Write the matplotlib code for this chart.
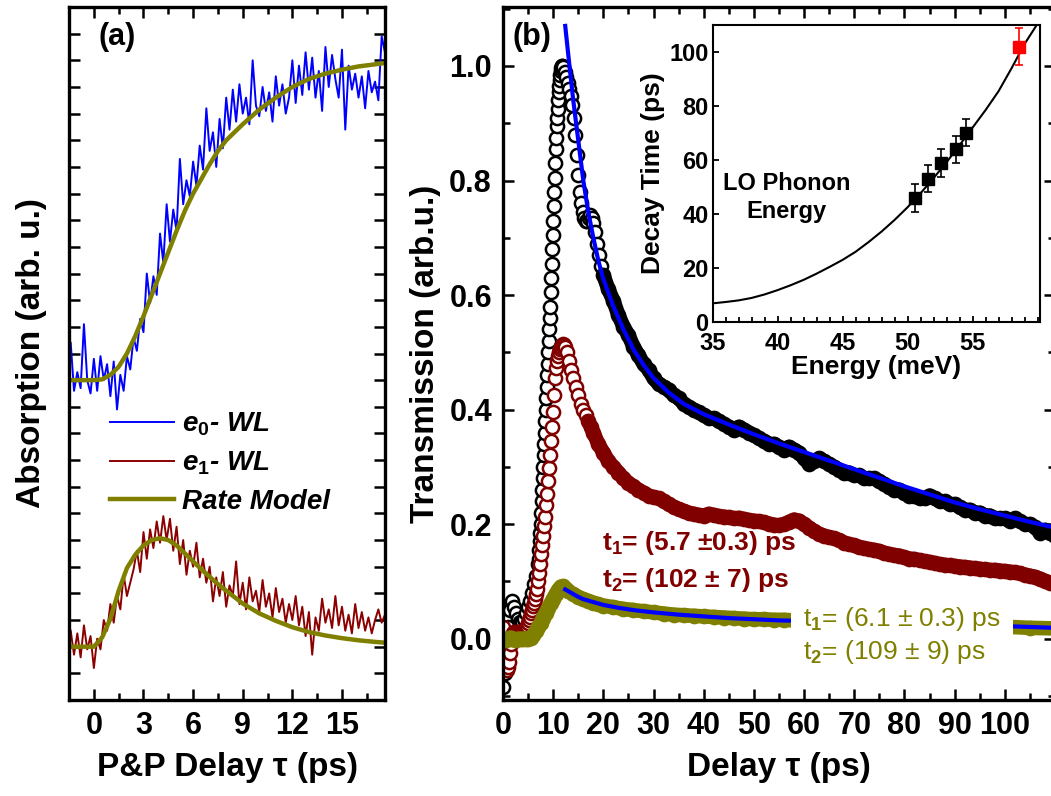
"""Pump-probe figure: (a) WL absorption transients with rate-model curves,
(b) transmission transients with bi-exponential fits and LO-phonon inset."""
import numpy as np
import matplotlib

matplotlib.use("Agg")
import matplotlib.pyplot as plt
from matplotlib.ticker import FixedLocator, FormatStrFormatter, MultipleLocator

BLUE = "#0000ff"
MAROON = "#800000"
DARKRED = "#8b0000"
OLIVE = "#808000"

# ---- panel (a): absorption vs P&P delay (arb. units) -----------------------
a_t = np.round(np.arange(-1.4, 17.61, 0.2), 1)
a_e0 = [13.4, 11.6, 12.3, 11.7, 14.1, 12.0, 11.5, 12.8, 11.6, 12.9,
        12.0, 12.6, 11.4, 12.7, 10.9, 12.2, 11.6, 12.9, 12.4, 13.6,
        13.1, 14.3, 13.8, 16.0, 14.9, 15.9, 15.2, 17.5, 16.4, 18.6,
        17.2, 18.4, 17.6, 20.3, 18.6, 19.5, 18.9, 20.2, 19.3, 20.8,
        19.9, 22.2, 20.6, 21.3, 20.0, 21.8, 20.7, 22.6, 21.4, 22.9,
        21.7, 23.1, 22.0, 22.6, 21.6, 24.0, 22.3, 21.9, 23.0, 22.1,
        22.8, 21.7, 23.4, 22.3, 23.1, 22.0, 22.6, 24.0, 22.4, 23.8,
        22.7, 24.3, 22.9, 24.1, 22.6, 23.6, 22.1, 24.5, 23.0, 24.2,
        23.3, 22.6, 24.4, 21.4, 23.8, 22.9, 23.5, 22.6, 23.4, 22.2,
        23.6, 22.8, 23.2, 22.5, 24.9, 24.3]
a_e1 = [2.6, 1.7, 2.5, 1.6, 2.8, 1.9, 2.4, 1.2, 2.3, 1.9,
        3.0, 2.6, 3.6, 2.9, 3.9, 3.4, 4.7, 3.9, 4.4, 4.9,
        5.6, 4.8, 6.3, 5.3, 6.4, 5.7, 6.7, 5.9, 6.9, 6.0,
        6.8, 5.6, 6.5, 5.1, 6.0, 4.7, 5.6, 5.0, 5.9, 4.6,
        5.3, 4.4, 5.0, 3.7, 4.6, 3.9, 4.8, 3.5, 4.3, 3.9,
        5.2, 3.6, 4.4, 3.4, 4.6, 3.7, 4.1, 3.3, 4.5, 3.5,
        4.0, 3.1, 4.2, 3.3, 3.8, 2.9, 3.6, 3.0, 3.9, 2.8,
        3.5, 2.4, 3.3, 1.7, 3.1, 2.6, 3.8, 2.9, 3.4, 2.7,
        3.9, 2.8, 3.5, 2.6, 3.2, 2.5, 3.6, 2.7, 3.3, 2.6,
        3.1, 2.5, 3.0, 3.4, 2.9, 3.2]
model_t = [-1.5, -1.0, -0.5, 0.0, 0.5, 1.0, 1.5, 2.0, 2.5, 3.0, 3.5, 4.0, 4.5,
           5.0, 5.5, 6.0, 6.5, 7.0, 7.5, 8.0, 9.0, 10.0, 11.0, 12.0, 13.0,
           14.0, 15.0, 16.0, 17.0, 17.6]
model_e0 = [12.0, 12.0, 12.0, 12.0, 12.03, 12.2, 12.5, 13.0, 13.65, 14.4, 15.2,
            16.0, 16.8, 17.6, 18.35, 19.0, 19.55, 20.1, 20.6, 21.0, 21.6, 22.15,
            22.6, 23.0, 23.3, 23.5, 23.65, 23.77, 23.85, 23.9]
model_e1 = [2.0, 2.0, 2.0, 2.0, 2.35, 3.05, 4.1, 4.95, 5.45, 5.8, 6.0, 6.07,
            6.0, 5.8, 5.5, 5.2, 4.9, 4.62, 4.35, 4.1, 3.62, 3.25, 2.97, 2.73,
            2.55, 2.42, 2.32, 2.24, 2.18, 2.15]

# ---- panel (b): transmission vs delay ---------------------------------------
tail_t = np.arange(21, 111)

black_t_early = np.concatenate([
    [0.0, 0.3, 0.6, 1.0, 1.4, 1.8, 2.2, 2.6, 3.0, 3.4, 3.8, 4.2, 4.6, 5.0,
     5.4, 5.8, 6.2, 6.6],
    np.round(np.arange(7.0, 11.85, 0.1), 1),
    [12.0, 12.3, 12.6, 12.9, 13.2, 13.5, 13.8, 14.1, 14.4, 14.7, 15.0, 15.3,
     15.6, 15.9, 16.2, 16.5, 16.8, 17.1, 17.4, 17.7, 18.0, 18.4, 18.8, 19.2,
     19.6, 20.0]])
black_v_early = [
    -0.085, -0.06, -0.03, 0.02, 0.05, 0.065, 0.055, 0.045, 0.035, 0.03, 0.03,
    0.035, 0.045, 0.055, 0.065, 0.08, 0.095, 0.11,
    0.13, 0.14, 0.155, 0.17, 0.185, 0.2, 0.22, 0.24, 0.26, 0.28,
    0.30, 0.32, 0.34, 0.36, 0.38, 0.40, 0.42, 0.44, 0.46, 0.48,
    0.50, 0.52, 0.54, 0.56, 0.58, 0.605, 0.63, 0.655, 0.68, 0.705,
    0.73, 0.755, 0.78, 0.805, 0.83, 0.855, 0.875, 0.895, 0.91, 0.925,
    0.94, 0.955, 0.965, 0.975, 0.985, 0.992, 0.997, 1.0, 1.0,
    0.998, 0.99, 0.98, 0.97, 0.96, 0.948, 0.932, 0.91, 0.88, 0.845, 0.81,
    0.78, 0.76, 0.745, 0.735, 0.73, 0.73, 0.735, 0.74, 0.735, 0.725, 0.71,
    0.69, 0.67, 0.65, 0.635]
black_v_tail = [
    0.61, 0.59, 0.565, 0.545, 0.53, 0.51, 0.495, 0.48, 0.47, 0.455,
    0.445, 0.44, 0.435, 0.425, 0.42, 0.41, 0.405, 0.40, 0.395, 0.39,
    0.385, 0.385, 0.38, 0.375, 0.37, 0.365, 0.37, 0.365, 0.36, 0.355,
    0.35, 0.345, 0.34, 0.34, 0.335, 0.33, 0.335, 0.33, 0.325, 0.315,
    0.305, 0.31, 0.315, 0.31, 0.305, 0.30, 0.295, 0.29, 0.29, 0.285,
    0.285, 0.28, 0.28, 0.28, 0.275, 0.27, 0.265, 0.26, 0.26, 0.255,
    0.25, 0.25, 0.245, 0.245, 0.25, 0.245, 0.24, 0.24, 0.235, 0.235,
    0.23, 0.225, 0.225, 0.22, 0.22, 0.215, 0.215, 0.21, 0.21, 0.21,
    0.205, 0.21, 0.205, 0.20, 0.20, 0.195, 0.185, 0.19, 0.185, 0.18]

red_t_early = np.concatenate([
    np.round(np.arange(0.0, 12.41, 0.2), 1),
    [12.8, 13.2, 13.6, 14.0, 14.5, 15.0, 15.5, 16.0, 16.5, 17.0, 17.5, 18.0,
     19.0, 20.0]])
red_v_early = [
    0.02, 0.0, -0.025, -0.045, -0.055, -0.05, -0.04, -0.025, -0.01, 0.0,
    0.01, 0.012, 0.012, 0.01, 0.01, 0.012, 0.012, 0.01, 0.012, 0.012,
    0.012, 0.013, 0.015, 0.018, 0.022, 0.027, 0.032, 0.038, 0.045, 0.051,
    0.057, 0.063, 0.07, 0.078, 0.086, 0.1, 0.115, 0.131, 0.148, 0.164,
    0.18, 0.196, 0.213, 0.233, 0.253, 0.275, 0.298, 0.321, 0.345, 0.37,
    0.395, 0.425, 0.455, 0.472, 0.485, 0.493, 0.5, 0.506, 0.51, 0.513,
    0.515, 0.513, 0.51,
    0.5, 0.485, 0.47, 0.455, 0.44, 0.425, 0.41, 0.40, 0.39, 0.38, 0.37,
    0.36, 0.34, 0.325]
red_v_tail = [
    0.31, 0.30, 0.29, 0.28, 0.272, 0.266, 0.26, 0.255, 0.25, 0.247,
    0.245, 0.24, 0.235, 0.23, 0.226, 0.223, 0.22, 0.218, 0.216, 0.215,
    0.218, 0.216, 0.214, 0.213, 0.212, 0.21, 0.211, 0.209, 0.207, 0.206,
    0.205, 0.203, 0.201, 0.199, 0.198, 0.2, 0.204, 0.208, 0.206, 0.2,
    0.194, 0.188, 0.183, 0.18, 0.177, 0.175, 0.172, 0.168, 0.165, 0.163,
    0.16, 0.158, 0.156, 0.155, 0.153, 0.15, 0.148, 0.146, 0.145, 0.142,
    0.14, 0.139, 0.137, 0.135, 0.134, 0.132, 0.13, 0.129, 0.128, 0.127,
    0.126, 0.125, 0.124, 0.123, 0.122, 0.121, 0.12, 0.12, 0.119, 0.118,
    0.117, 0.116, 0.114, 0.112, 0.11, 0.108, 0.105, 0.101, 0.098, 0.095]

olive_t = [0, 0.5, 1, 1.5, 2, 2.5, 3, 3.5, 4, 4.5, 5, 5.5, 6, 6.5, 7, 7.5, 8,
           8.5, 9, 9.5, 10, 10.5, 11, 11.5, 12, 12.5, 13, 14, 15, 16, 17, 18,
           19, 20, 22, 24, 26, 28, 30, 32, 34, 36, 38, 40, 42, 44, 46, 48, 50,
           52, 54, 56, 58, 60, 65, 70, 75, 80, 85, 90, 95, 100, 105, 110]
olive_v = [0.0, -0.002, 0.0, 0.002, 0.0, -0.002, 0.0, 0.0, 0.0, 0.0, 0.0,
           0.002, 0.006, 0.013, 0.02, 0.028, 0.037, 0.045, 0.053, 0.062, 0.07,
           0.078, 0.085, 0.091, 0.092, 0.087, 0.083, 0.078, 0.073, 0.069,
           0.066, 0.063, 0.06, 0.058, 0.055, 0.052, 0.05, 0.048, 0.046, 0.044,
           0.042, 0.041, 0.04, 0.039, 0.038, 0.037, 0.036, 0.035, 0.034,
           0.034, 0.033, 0.033, 0.032, 0.032, 0.03, 0.029, 0.028, 0.026,
           0.025, 0.024, 0.022, 0.021, 0.019, 0.018]

fitb_t = [12.4, 13, 13.5, 14, 15, 16, 17, 18, 19, 20, 22, 24, 26, 28, 30, 33,
          36, 40, 45, 50, 55, 60, 65, 70, 75, 80, 85, 90, 95, 100, 105, 110]
fit_black = [1.07, 1.02, 0.98, 0.94, 0.87, 0.80, 0.745, 0.70, 0.66, 0.628,
             0.58, 0.54, 0.505, 0.478, 0.455, 0.43, 0.41, 0.392, 0.374, 0.357,
             0.341, 0.326, 0.311, 0.296, 0.281, 0.266, 0.252, 0.238, 0.226,
             0.215, 0.204, 0.194]
fito_t = [12.4, 13, 14, 15, 16, 18, 20, 23, 26, 30, 35, 40, 45, 50, 55, 60, 70,
          80, 90, 100, 110]
fit_olive = [0.086, 0.083, 0.078, 0.073, 0.069, 0.064, 0.059, 0.054, 0.05,
             0.046, 0.042, 0.039, 0.036, 0.034, 0.032, 0.031, 0.029, 0.027,
             0.025, 0.022, 0.019]

# ---- inset: decay time vs LO phonon energy ----------------------------------
lo_E = [50.6, 51.6, 52.6, 53.7, 54.5]
lo_tau = [46, 53, 59, 64, 70]
lo_err = [5.2, 5.0, 5.2, 5.0, 5.0]
ref_E = [58.6]
ref_tau = [102]
ref_err = [7]
curve_E = [35, 36, 37, 38, 39, 40, 41, 42, 43, 44, 45, 46, 47, 48, 49, 50, 51,
           52, 53, 54, 55, 56, 57, 58, 59, 60]
curve_tau = [6.9, 7.4, 8.0, 8.9, 10.2, 11.8, 13.6, 15.6, 17.9, 20.4, 23.0, 26.0,
             29.6, 33.5, 37.8, 42.5, 47.7, 53.3, 59.2, 65.5, 72.0, 78.5, 85.5,
             94.0, 103.0, 110.5]

plt.rcParams.update({
    "font.family": ["Liberation Sans", "DejaVu Sans"],
    "font.weight": "bold",
    "axes.labelweight": "bold",
    "mathtext.fontset": "custom",
    "mathtext.rm": "Liberation Sans",
    "mathtext.bf": "Liberation Sans:bold",
    "mathtext.it": "Liberation Sans:italic",
    "xtick.direction": "in",
    "ytick.direction": "in",
    "xtick.top": True,
    "ytick.right": True,
    "axes.linewidth": 2.4,
})


def style_main(ax):
    ax.tick_params(which="major", length=8, width=1.8, labelsize=22, pad=8)
    ax.tick_params(which="minor", length=5, width=1.8)


fig = plt.figure(figsize=(10.51, 7.96), dpi=100)

# (a)
ax_a = fig.add_axes([0.0657, 0.1206, 0.3006, 0.8706])
ax_a.plot(a_t, a_e0, color=BLUE, lw=1.4, label=r"e$_\mathbf{0}$- WL")
ax_a.plot(a_t, a_e1, color=DARKRED, lw=1.4, label=r"e$_\mathbf{1}$- WL")
ax_a.plot(model_t, model_e0, color=OLIVE, lw=3.2, label="Rate Model")
ax_a.plot(model_t, model_e1, color=OLIVE, lw=3.2)
ax_a.set_xlim(-1.5, 17.6)
ax_a.set_ylim(0, 26)
ax_a.xaxis.set_major_locator(MultipleLocator(3))
ax_a.xaxis.set_minor_locator(MultipleLocator(1.5))
ax_a.yaxis.set_major_locator(FixedLocator(range(1, 26)))
ax_a.tick_params(axis="y", labelleft=False)
style_main(ax_a)
ax_a.set_xlabel("P&P Delay τ (ps)", fontsize=24, labelpad=8)
ax_a.set_ylabel("Absorption (arb. u.)", fontsize=24, labelpad=16)
ax_a.text(0.152, 0.957, "(a)", transform=ax_a.transAxes, fontsize=22,
          ha="center", va="center")
ax_a.legend(loc="upper left", bbox_to_anchor=(0.13, 0.418), frameon=False,
            handlelength=2.3, handletextpad=0.3, labelspacing=0.42,
            borderpad=0, borderaxespad=0,
            prop={"weight": "bold", "style": "italic", "size": 20})

# (b)
ax_b = fig.add_axes([0.4786, 0.1206, 0.5252, 0.8706])
black_t = np.concatenate([black_t_early, tail_t])
black_v = np.array(black_v_early + black_v_tail)
red_t = np.concatenate([red_t_early, tail_t])
red_v = np.array(red_v_early + red_v_tail)

circ = dict(ls="none", marker="o", ms=9.5, mfc="white", mew=1.8)
ax_b.plot(black_t, black_v, mec="black", zorder=2, **circ)
ax_b.plot(black_t[black_t >= 20], black_v[black_t >= 20], color="black",
          lw=10.5, solid_capstyle="round", zorder=2.1)
ax_b.plot(red_t, red_v, mec=MAROON, zorder=2.2, **circ)
ax_b.plot(red_t[red_t >= 17], red_v[red_t >= 17], color=MAROON,
          lw=10.5, solid_capstyle="round", zorder=2.3)
ax_b.plot(olive_t, olive_v, mec=OLIVE, zorder=2.4, **circ)
ax_b.plot(olive_t, olive_v, color=OLIVE, lw=10.5, solid_capstyle="round",
          zorder=2.5)
ax_b.plot(fitb_t, fit_black, color=BLUE, lw=3, zorder=3)
ax_b.plot(fito_t, fit_olive, color=BLUE, lw=3, zorder=3)

ax_b.set_xlim(0, 110)
ax_b.set_ylim(-0.107, 1.103)
ax_b.xaxis.set_major_locator(FixedLocator(range(0, 101, 10)))
ax_b.xaxis.set_minor_locator(MultipleLocator(5))
ax_b.yaxis.set_major_locator(FixedLocator([0, 0.2, 0.4, 0.6, 0.8, 1.0]))
ax_b.yaxis.set_minor_locator(MultipleLocator(0.1))
ax_b.yaxis.set_major_formatter(FormatStrFormatter("%.1f"))
style_main(ax_b)
ax_b.set_xlabel("Delay τ (ps)", fontsize=24, labelpad=8)
ax_b.set_ylabel("Transmission (arb.u.)", fontsize=24, labelpad=6)
ax_b.text(0.053, 0.957, "(b)", transform=ax_b.transAxes, fontsize=22,
          ha="center", va="center")

ax_b.text(19.7, 0.168, r"t$_\mathbf{1}$= (5.7 ±0.3) ps", color=MAROON,
          fontsize=19, va="center", zorder=5)
ax_b.text(19.7, 0.103, r"t$_\mathbf{2}$= (102 ± 7) ps", color=MAROON,
          fontsize=19, va="center", zorder=5)
ax_b.text(59.8, 0.006, "t$_\\mathrm{1}$= (6.1 ± 0.3) ps\nt$_\\mathrm{2}$= (109 ± 9) ps",
          color=OLIVE, fontsize=19, fontweight="normal", va="center",
          linespacing=1.25, zorder=6,
          bbox=dict(boxstyle="square,pad=0.45", fc="white", ec="none"))

# inset
ax_in = fig.add_axes([0.678, 0.5955, 0.3111, 0.3731])
ax_in.plot(curve_E, curve_tau, color="black", lw=1.5)
ax_in.errorbar(lo_E, lo_tau, yerr=lo_err, fmt="s", color="black", ms=9,
               capsize=3, elinewidth=1.2, capthick=1.2)
ax_in.errorbar(ref_E, ref_tau, yerr=ref_err, fmt="s", color="#ff0000", ms=9,
               capsize=3, elinewidth=1.2, capthick=1.2)
ax_in.set_xlim(35, 60.15)
ax_in.set_ylim(0, 110)
ax_in.xaxis.set_major_locator(FixedLocator([35, 40, 45, 50, 55]))
ax_in.xaxis.set_minor_locator(MultipleLocator(1))
ax_in.yaxis.set_major_locator(MultipleLocator(20))
for s in ax_in.spines.values():
    s.set_linewidth(1.5)
ax_in.tick_params(top=False, right=False, which="both")
ax_in.tick_params(which="major", length=4, width=1.3, labelsize=17, pad=3)
ax_in.tick_params(axis="x", which="major", pad=7)
ax_in.tick_params(which="minor", length=3.5, width=1.3)
ax_in.set_xlabel("Energy (meV)", fontsize=19, labelpad=0)
ax_in.set_ylabel("Decay Time (ps)", fontsize=19, labelpad=3)
ax_in.text(40.7, 46, "LO Phonon\nEnergy", fontsize=17, ha="center",
           va="center", linespacing=1.3)

fig.savefig("out.png", dpi=100)
